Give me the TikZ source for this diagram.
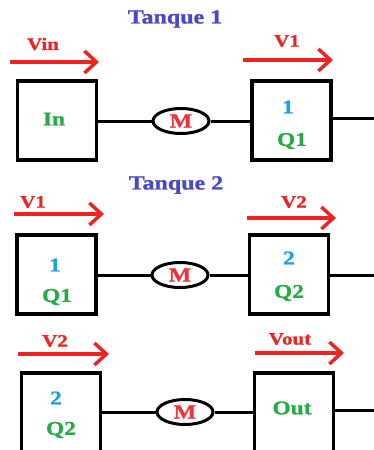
\documentclass[tikz,border=0pt]{standalone}
\usepackage{fontspec}
\setmainfont{Liberation Serif}[FakeStretch=1.2, BoldFeatures={FakeBold=1.2}]
\usetikzlibrary{arrows.meta,shapes.geometric}
\definecolor{flowred}{RGB}{238,36,36}
\definecolor{mred}{RGB}{236,52,60}
\definecolor{tgreen}{RGB}{40,170,70}
\definecolor{tcyan}{RGB}{30,160,230}
\definecolor{tblue}{RGB}{72,72,200}
\tikzset{
  tank/.style={draw=black, line width=3.5pt, minimum width=79pt, minimum height=79pt, inner sep=0pt},
  motor/.style={draw=black, ellipse, line width=3pt, minimum width=56pt, minimum height=25pt, inner sep=0pt,
    font=\fontsize{20}{20}\selectfont\bfseries, text=mred},
  pipe/.style={line width=3pt, black},
  flow/.style={line width=3.5pt, flowred, -{Straight Barb[length=12pt,width=22pt,line width=3.5pt]}},
  flowlab/.style={font=\fontsize{17.5}{17.5}\selectfont\bfseries, text=flowred},
  title/.style={font=\fontsize{20}{20}\selectfont\bfseries, text=tblue},
  qname/.style={font=\fontsize{19.5}{19.5}\selectfont\bfseries, text=tgreen},
  qnum/.style={font=\fontsize{19.5}{19.5}\selectfont\bfseries, text=tcyan},
}
\begin{document}
\begin{tikzpicture}[x=1pt,y=-1pt]
\useasboundingbox (0,0) rectangle (373,450);

% ---- Tank 1 ----
\node[title] (t1) at (175,19) {Tanque 1};
\node[flowlab] (lvin) at (43,44) {Vin};
\coordinate (a1s) at (10,62); \coordinate (a1e) at (99,62);
\draw[flow] (a1s) -- (a1e);
\node[flowlab] (lv1a) at (287,41) {V1};
\coordinate (a2s) at (243,60); \coordinate (a2e) at (333,60);
\draw[flow] (a2s) -- (a2e);
\node[tank] (in) at (57,120.5) {};
\node[qname] (inlab) at (54,119) {In};
\node[motor] (m1) at (181,121) {M};
\node[tank] (q1a) at (291.5,120.5) {};
\node[qnum] (n1a) at (288,107) {1};
\node[qname] (q1alab) at (292,141) {Q1};
\coordinate (r1) at (376,118.5);
\draw[pipe] (in.east |- m1.west) -- (m1.west);
\draw[pipe] (m1.east) -- (q1a.west |- m1.east);
\draw[pipe] (q1a.east |- r1) -- (r1);

% ---- Tank 2 ----
\node[title] (t2) at (176,185) {Tanque 2};
\node[flowlab] (lv1b) at (33,202) {V1};
\coordinate (b1s) at (14,214); \coordinate (b1e) at (104,214);
\draw[flow] (b1s) -- (b1e);
\node[flowlab] (lv2a) at (294,202) {V2};
\coordinate (b2s) at (247,218); \coordinate (b2e) at (336,218);
\draw[flow] (b2s) -- (b2e);
\node[tank] (q1b) at (56.5,274.5) {};
\node[qnum] (n1b) at (55,265) {1};
\node[qname] (q1blab) at (57,297) {Q1};
\node[motor] (m2) at (180,275) {M};
\node[tank] (q2a) at (289,274.5) {};
\node[qnum] (n2a) at (289,258) {2};
\node[qname] (q2alab) at (289,293) {Q2};
\coordinate (r2) at (376,275);
\draw[pipe] (q1b.east |- m2.west) -- (m2.west);
\draw[pipe] (m2.east) -- (q2a.west |- m2.east);
\draw[pipe] (q2a.east |- r2) -- (r2);

% ---- Tank 3 ----
\node[flowlab] (lv2b) at (55,341) {V2};
\coordinate (c1s) at (18,354); \coordinate (c1e) at (109,354);
\draw[flow] (c1s) -- (c1e);
\node[flowlab] (lvout) at (290,339) {Vout};
\coordinate (c2s) at (255,353); \coordinate (c2e) at (344,353);
\draw[flow] (c2s) -- (c2e);
\node[tank] (q2b) at (61,412.5) {};
\node[qnum] (n2b) at (56,398) {2};
\node[qname] (q2blab) at (61,430) {Q2};
\node[motor] (m3) at (185,412) {M};
\node[tank] (out) at (294,412.5) {};
\node[qname] (outlab) at (292,408) {Out};
\coordinate (r3) at (376,410.5);
\draw[pipe] (q2b.east |- m3.west) -- (m3.west);
\draw[pipe] (m3.east) -- (out.west |- m3.east);
\draw[pipe] (out.east |- r3) -- (r3);
\end{tikzpicture}
\end{document}
